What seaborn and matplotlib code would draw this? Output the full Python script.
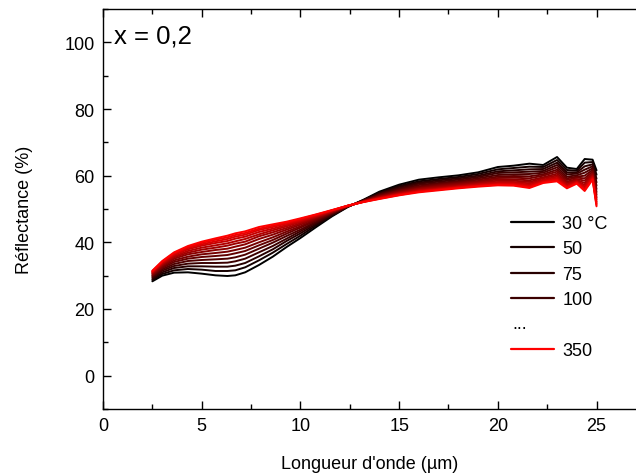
#!/usr/bin/env python3
"""Reflectance spectra vs wavelength for several temperatures (x = 0,2)"""

import pandas as pd
import seaborn as sns
import matplotlib.pyplot as plt
from matplotlib.lines import Line2D
from matplotlib.ticker import MultipleLocator

###########################################################
# Data
###########################################################

wavelength = [2.5, 3.0, 3.6, 4.3, 5.0, 5.7, 6.3, 6.7, 7.2, 7.9, 8.6, 9.3, 10.0,
              10.8, 11.6, 12.4, 13.2, 14.0, 15.0, 16.0, 17.0, 18.0, 19.0, 20.0,
              20.8, 21.6, 22.3, 23.0, 23.5, 24.0, 24.4, 24.8, 25.0]

temperatures = [30, 50, 75, 100, 125, 150, 175, 200, 225, 250, 275, 300, 325, 350]

r_30 = [28.3, 30.0, 30.9, 31.0, 30.6, 30.1, 29.9, 30.1, 31.0, 33.2, 35.7, 38.6, 41.3,
        44.6, 47.8, 50.6, 52.8, 55.2, 57.3, 58.8, 59.5, 60.1, 61.0, 62.6,
        63.0, 63.6, 63.2, 65.6, 62.4, 62.0, 65.0, 64.8, 61.6]
r_50 = [28.7, 30.5, 31.6, 32.0, 31.8, 31.4, 31.4, 31.6, 32.5, 34.6, 36.9, 39.5, 42.0,
        45.1, 48.0, 50.7, 52.7, 54.9, 56.9, 58.3, 59.0, 59.6, 60.5, 61.9,
        62.3, 62.7, 62.6, 64.7, 61.7, 61.5, 63.9, 64.1, 60.3]
r_75 = [29.0, 31.0, 32.3, 32.8, 32.8, 32.7, 32.7, 33.0, 33.8, 35.8, 37.9, 40.4, 42.7,
        45.5, 48.2, 50.7, 52.6, 54.7, 56.6, 57.9, 58.6, 59.2, 60.0, 61.3,
        61.6, 61.9, 62.0, 63.9, 61.0, 61.0, 62.8, 63.4, 59.1]
r_100 = [29.4, 31.5, 32.9, 33.6, 33.8, 33.8, 33.9, 34.3, 35.1, 37.0, 38.9, 41.1, 43.3,
         45.9, 48.4, 50.7, 52.6, 54.5, 56.2, 57.6, 58.2, 58.8, 59.6, 60.8,
         61.0, 61.2, 61.4, 63.2, 60.4, 60.6, 61.8, 62.8, 58.0]
r_125 = [29.7, 31.9, 33.5, 34.4, 34.7, 34.9, 35.1, 35.5, 36.3, 38.1, 39.9, 41.9, 43.8,
         46.2, 48.6, 50.8, 52.5, 54.3, 55.9, 57.2, 57.8, 58.4, 59.2, 60.2,
         60.4, 60.5, 60.9, 62.5, 59.7, 60.1, 60.9, 62.2, 57.0]
r_150 = [30.0, 32.3, 34.1, 35.1, 35.6, 35.9, 36.2, 36.7, 37.4, 39.1, 40.7, 42.6, 44.4,
         46.6, 48.8, 50.8, 52.4, 54.1, 55.6, 56.8, 57.5, 58.1, 58.8, 59.7,
         59.9, 59.8, 60.4, 61.8, 59.2, 59.7, 60.0, 61.7, 56.0]
r_175 = [30.2, 32.6, 34.6, 35.7, 36.4, 36.8, 37.2, 37.7, 38.4, 40.0, 41.5, 43.2, 44.8,
         46.9, 48.9, 50.8, 52.4, 53.9, 55.4, 56.5, 57.2, 57.8, 58.4, 59.3,
         59.4, 59.2, 60.0, 61.2, 58.7, 59.4, 59.2, 61.2, 55.1]
r_200 = [30.5, 33.0, 35.1, 36.4, 37.1, 37.7, 38.1, 38.7, 39.4, 41.0, 42.3, 43.8, 45.3,
         47.2, 49.1, 50.9, 52.3, 53.7, 55.1, 56.2, 56.9, 57.5, 58.1, 58.9,
         58.9, 58.6, 59.5, 60.6, 58.2, 59.0, 58.5, 60.7, 54.3]
r_225 = [30.7, 33.3, 35.5, 36.9, 37.8, 38.4, 39.0, 39.6, 40.2, 41.8, 43.0, 44.3, 45.7,
         47.5, 49.2, 50.9, 52.3, 53.6, 54.9, 56.0, 56.6, 57.2, 57.8, 58.5,
         58.5, 58.1, 59.2, 60.1, 57.8, 58.7, 57.8, 60.3, 53.5]
r_250 = [30.9, 33.6, 35.8, 37.4, 38.4, 39.1, 39.7, 40.3, 41.0, 42.4, 43.6, 44.8, 46.1,
         47.7, 49.3, 50.9, 52.2, 53.4, 54.7, 55.7, 56.3, 56.9, 57.5, 58.1,
         58.1, 57.7, 58.8, 59.7, 57.4, 58.4, 57.2, 59.9, 52.9]
r_275 = [31.1, 33.8, 36.2, 37.9, 39.0, 39.8, 40.4, 41.1, 41.7, 43.1, 44.1, 45.2, 46.4,
         47.9, 49.5, 51.0, 52.2, 53.3, 54.5, 55.5, 56.1, 56.7, 57.3, 57.8,
         57.8, 57.3, 58.5, 59.3, 57.0, 58.2, 56.7, 59.6, 52.2]
r_300 = [31.2, 34.1, 36.5, 38.3, 39.4, 40.3, 41.0, 41.7, 42.3, 43.7, 44.6, 45.6, 46.7,
         48.1, 49.6, 51.0, 52.2, 53.2, 54.4, 55.3, 55.9, 56.5, 57.0, 57.5,
         57.5, 56.9, 58.2, 58.9, 56.7, 58.0, 56.2, 59.3, 51.7]
r_325 = [31.4, 34.2, 36.8, 38.6, 39.8, 40.8, 41.5, 42.2, 42.8, 44.1, 45.0, 45.9, 47.0,
         48.3, 49.6, 51.0, 52.1, 53.1, 54.2, 55.2, 55.8, 56.4, 56.9, 57.3,
         57.2, 56.6, 58.0, 58.6, 56.5, 57.8, 55.8, 59.0, 51.2]
r_350 = [31.5, 34.4, 37.0, 38.9, 40.2, 41.2, 42.0, 42.7, 43.3, 44.6, 45.4, 46.2, 47.2,
         48.4, 49.7, 51.0, 52.1, 53.0, 54.1, 55.0, 55.6, 56.2, 56.7, 57.1,
         57.0, 56.3, 57.8, 58.3, 56.2, 57.6, 55.4, 58.8, 50.8]

spectra = [r_30, r_50, r_75, r_100, r_125, r_150, r_175, r_200, r_225, r_250,
           r_275, r_300, r_325, r_350]

legend_labels = ["30 °C", "50", "75", "100", "...", "350"]

###########################################################
# Main
###########################################################


def main():
    df = pd.concat(
        [
            pd.DataFrame({"wl": wavelength, "R": vals, "T": t})
            for t, vals in zip(temperatures, spectra)
        ],
        ignore_index=True,
    )

    # black -> red gradient
    n = len(temperatures)
    colours = [(i / (n - 1), 0.0, 0.0) for i in range(n)]

    sns.set_style("ticks")
    plt.rcParams["font.family"] = ["Liberation Sans", "DejaVu Sans"]
    plt.rcParams["text.color"] = "black"
    plt.rcParams["axes.labelcolor"] = "black"
    plt.rcParams["xtick.color"] = "black"
    plt.rcParams["ytick.color"] = "black"

    fig = plt.figure(figsize=(6.36, 4.77), dpi=100)
    ax = fig.add_axes([0.162, 0.1405, 0.838, 0.8385])

    sns.lineplot(
        data=df,
        x="wl",
        y="R",
        hue="T",
        palette=colours,
        estimator=None,
        sort=False,
        linewidth=1.4,
        legend=False,
        ax=ax,
    )

    ax.set_xlim(0, 27)
    ax.set_ylim(-10, 110)
    ax.xaxis.set_major_locator(MultipleLocator(5))
    ax.xaxis.set_minor_locator(MultipleLocator(2.5))
    ax.yaxis.set_major_locator(MultipleLocator(20))
    ax.yaxis.set_minor_locator(MultipleLocator(10))
    ax.tick_params(which="both", direction="in", top=True, right=False,
                   labelsize=13, width=1, color="black", labelcolor="black")
    ax.tick_params(which="major", length=5.5, pad=6)
    ax.tick_params(which="minor", length=3.5)
    for side in ["left", "bottom", "top"]:
        ax.spines[side].set_linewidth(1.0)
        ax.spines[side].set_color("black")
    ax.spines["right"].set_visible(False)

    ax.set_xlabel("Longueur d'onde (µm)", fontsize=13, labelpad=15)
    ax.set_ylabel("Réflectance (%)", fontsize=13, labelpad=23)

    ax.text(0.02, 0.965, "x = 0,2", transform=ax.transAxes, fontsize=18.5,
            ha="left", va="top")

    # legend: the "..." row sits under the line samples, so it is drawn as
    # a blank entry plus a separate text
    handles, labels = [], []
    for lab in legend_labels:
        if lab == "...":
            handles.append(Line2D([], [], color="none"))
            labels.append(" ")
        else:
            idx = temperatures.index(int(lab.split()[0]))
            handles.append(Line2D([], [], color=colours[idx], lw=1.6))
            labels.append(lab)
    ax.legend(handles, labels, loc="upper left",
              bbox_to_anchor=(0.765, 0.485), frameon=False, fontsize=13,
              handlelength=2.4, handletextpad=0.45, labelspacing=0.47,
              borderpad=0, borderaxespad=0)
    ax.text(0.768, 0.203, "...", transform=ax.transAxes, fontsize=13,
            ha="left", va="baseline")

    fig.savefig("out.png", dpi=100)


if __name__ == "__main__":
    main()
